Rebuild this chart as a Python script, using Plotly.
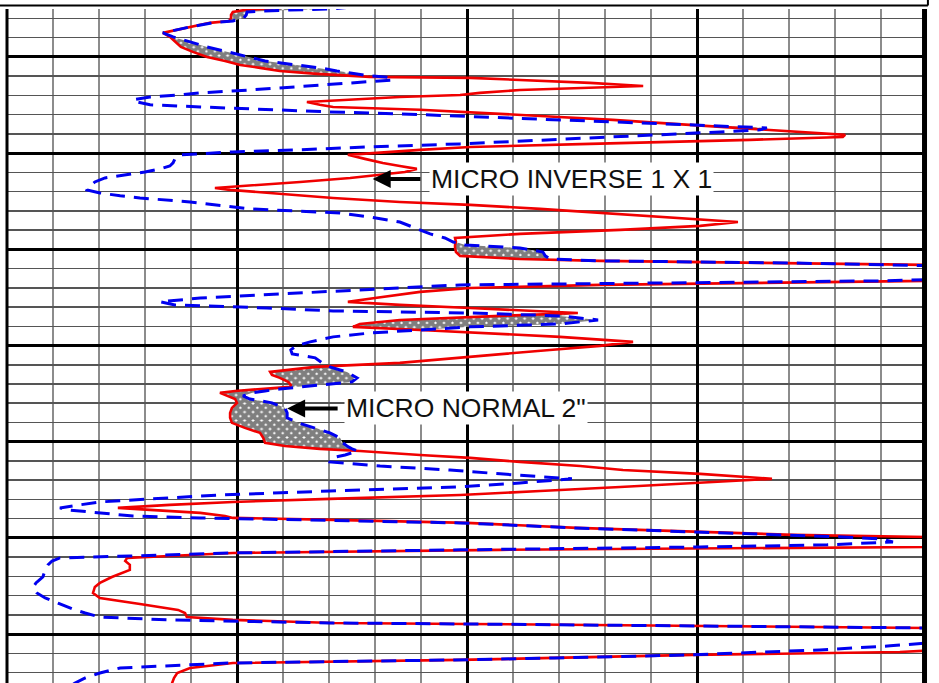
import numpy as np
import plotly.graph_objects as go

# Depth (ft) and resistivity readings (ohm-m, linear 0-20 scale)
depth_ft = [4197.30, 4197.51, 4197.56, 4197.66, 4197.82, 4197.97, 4198.13, 4198.23, 4198.44, 4198.65,
            4198.75, 4198.96, 4199.22, 4199.48, 4199.74, 4200.00, 4200.21, 4200.42, 4200.57, 4200.73,
            4200.88, 4200.99, 4201.04, 4201.09, 4201.20, 4201.35, 4201.51, 4201.61, 4201.72, 4201.87,
            4201.98, 4202.08, 4202.23, 4202.34, 4202.49, 4202.60, 4202.75, 4202.86, 4202.96, 4203.07,
            4203.27, 4203.48, 4203.69, 4203.79, 4203.90, 4204.05, 4204.16, 4204.31, 4204.52, 4204.68,
            4204.83, 4204.94, 4205.09, 4205.30, 4205.51, 4205.67, 4205.82, 4205.98, 4206.13, 4206.29,
            4206.50, 4206.70, 4206.81, 4206.91, 4207.07, 4207.22, 4207.33, 4207.54, 4207.69, 4207.90,
            4208.11, 4208.32, 4208.58, 4208.78, 4208.99, 4209.20, 4209.41, 4209.62, 4209.77, 4209.93,
            4210.14, 4210.34, 4210.50, 4210.60, 4210.71, 4210.81, 4210.92, 4211.49, 4211.59, 4211.64,
            4211.85, 4212.01, 4212.21, 4212.37, 4212.53, 4212.73, 4212.89, 4213.05, 4213.20, 4213.31,
            4213.46, 4213.67, 4213.88, 4214.03, 4214.19, 4214.35, 4214.55, 4214.81, 4215.02, 4215.23,
            4215.44, 4215.64, 4215.90, 4216.11, 4216.27, 4216.37, 4216.53, 4216.68, 4216.89, 4217.05,
            4217.15, 4217.26, 4217.36, 4217.46, 4217.62, 4217.78, 4217.98, 4218.24, 4218.50, 4218.76,
            4219.02, 4219.28, 4219.54, 4219.80, 4220.06, 4220.22, 4220.37, 4220.48, 4220.69, 4220.84,
            4221.05, 4221.26, 4221.47, 4221.67, 4221.93, 4222.14, 4222.35, 4222.56, 4222.77, 4222.97,
            4223.13, 4223.28, 4223.44, 4223.54, 4223.70, 4223.86, 4223.96, 4224.06, 4224.22, 4224.48,
            4224.69, 4224.84, 4224.95, 4225.05, 4225.21, 4225.36, 4225.47, 4225.62, 4225.78, 4225.94,
            4226.04, 4226.20, 4226.40, 4226.66, 4227.03, 4227.34, 4227.55, 4227.86, 4228.12, 4228.43,
            4228.74, 4228.90, 4229.11, 4229.26, 4229.42, 4229.47, 4229.57, 4229.68, 4229.78, 4230.35,
            4230.46, 4230.61, 4230.82, 4230.93, 4231.08, 4231.24, 4231.34, 4231.50, 4231.76, 4232.02,
            4232.28, 4232.54, 4232.90]

micro_inverse = [7.00, 5.54, 5.17, 4.91, 4.87, 4.87, 4.83, 4.41, 3.98, 3.54,
                 3.39, 3.54, 3.67, 3.78, 4.04, 4.35, 4.74, 5.07, 5.50, 5.93,
                 6.74, 7.46, 7.89, 10.07, 11.15, 12.67, 13.83, 12.46, 11.15, 10.28,
                 9.85, 8.54, 7.24, 6.52, 6.80, 7.09, 8.98, 10.07, 10.72, 11.59,
                 13.17, 14.50, 15.85, 16.50, 17.17, 18.22, 18.17, 16.15, 12.67, 10.07,
                 8.98, 8.33, 7.41, 7.78, 8.17, 8.54, 8.91, 8.65, 8.11, 7.46,
                 6.37, 5.07, 4.52, 4.85, 5.65, 6.37, 7.09, 8.54, 10.07, 11.59,
                 12.89, 14.20, 15.89, 15.07, 13.33, 11.15, 9.74, 9.76, 9.74, 9.74,
                 9.76, 9.85, 11.15, 12.89, 17.02, 20.07, 21.59, 21.59, 20.13, 20.00,
                 12.89, 10.07, 8.98, 8.54, 8.00, 7.41, 8.54, 10.07, 11.59, 12.41,
                 10.72, 8.54, 7.67, 7.52, 8.98, 10.28, 12.02, 13.61, 12.89, 11.80,
                 10.72, 9.85, 8.54, 6.70, 6.04, 5.72, 5.76, 5.93, 6.11, 6.17,
                 6.15, 5.54, 4.96, 4.63, 4.80, 4.96, 5.00, 4.89, 4.85, 4.85,
                 4.89, 5.17, 5.50, 5.57, 5.61, 6.04, 6.80, 7.67, 8.98, 10.07,
                 11.15, 12.46, 13.39, 15.07, 16.63, 15.07, 13.33, 11.59, 9.85, 7.02,
                 4.91, 3.54, 2.41, 3.11, 4.20, 4.74, 4.91, 7.09, 10.00, 12.39,
                 14.91, 17.09, 20.00, 21.59, 21.59, 21.59, 20.00, 10.72, 4.91, 3.33,
                 2.61, 2.57, 2.67, 2.67, 2.28, 2.02, 1.91, 1.87, 2.02, 2.89,
                 3.72, 3.87, 3.91, 4.91, 7.09, 10.00, 15.07, 20.00, 21.59, 21.59,
                 21.59, 21.59, 20.28, 19.41, 14.91, 12.02, 9.85, 4.91, 3.98, 3.70,
                 3.63, 3.59, 3.54]

micro_normal = [8.00, 7.02, 6.15, 5.22, 5.20, 5.15, 4.91, 4.46, 3.98, 3.54,
                3.39, 3.61, 3.98, 4.35, 4.80, 5.22, 5.61, 6.30, 6.80, 7.17,
                7.61, 7.89, 8.22, 8.33, 8.39, 7.46, 6.70, 6.00, 5.28, 4.20,
                3.76, 3.11, 2.74, 2.83, 3.11, 4.20, 5.65, 7.02, 8.54, 9.85,
                12.07, 14.30, 16.52, 16.37, 15.50, 14.20, 13.17, 11.80, 9.85, 7.83,
                6.37, 4.91, 3.76, 3.65, 3.61, 3.54, 3.33, 3.00, 2.57, 2.13,
                1.91, 1.80, 1.76, 1.74, 2.02, 2.46, 2.89, 3.98, 4.52, 5.28,
                7.24, 7.89, 8.54, 8.76, 8.98, 9.20, 9.52, 9.70, 9.96, 11.15,
                11.65, 11.70, 11.80, 12.89, 17.02, 20.07, 21.59, 21.59, 20.07, 18.98,
                9.85, 8.54, 6.96, 5.65, 4.20, 3.33, 3.65, 5.65, 7.09, 10.07,
                12.02, 12.85, 12.02, 10.07, 8.98, 7.89, 7.09, 6.59, 6.28, 6.17,
                6.20, 6.70, 6.85, 7.02, 7.24, 7.39, 7.50, 7.61, 7.50, 6.80,
                6.26, 5.93, 5.61, 5.33, 5.13, 5.28, 5.76, 6.04, 6.09, 6.09,
                6.33, 6.70, 7.02, 7.24, 7.30, 7.39, 7.50, 7.63, 7.35, 7.04,
                7.02, 8.11, 9.63, 10.72, 12.28, 11.15, 9.85, 7.02, 4.63, 3.11,
                2.02, 1.59, 1.15, 1.30, 2.02, 2.74, 4.20, 6.37, 9.85, 12.35,
                14.85, 17.02, 18.17, 18.98, 19.26, 17.83, 15.07, 9.85, 4.91, 2.67,
                1.15, 0.98, 0.89, 0.83, 0.78, 0.63, 0.57, 0.65, 0.83, 1.15,
                1.48, 1.70, 2.02, 3.48, 7.02, 9.85, 15.07, 20.00, 21.59, 21.59,
                20.00, 19.20, 17.67, 16.37, 14.85, 11.91, 9.74, 4.85, 2.46, 2.02,
                1.70, 1.48, 1.26]

x_range = [0, 20]
depth_range = [4232.54, 4197.51]  # bottom, top
label_inverse = "MICRO INVERSE 1 X 1"
label_normal = 'MICRO NORMAL 2"'

d = np.array(depth_ft)
mi = np.array(micro_inverse)
mn = np.array(micro_normal)
sep_right = np.maximum(mi, mn)

fig = go.Figure()

# checkered separation where micro normal reads higher than micro inverse
fig.add_trace(go.Scatter(
    x=np.concatenate([mi, sep_right[::-1]]),
    y=np.concatenate([d, d[::-1]]),
    mode="lines", fill="toself",
    line=dict(width=0, color="rgba(0,0,0,0)"),
    fillcolor="white",
    fillpattern=dict(shape="x", fgcolor="black", bgcolor="white", size=6, solidity=0.88),
    hoverinfo="skip", showlegend=False))

fig.add_trace(go.Scatter(x=mi, y=d, mode="lines", name=label_inverse,
                         line=dict(color="#f00000", width=2.6)))
fig.add_trace(go.Scatter(x=mn, y=d, mode="lines", name=label_normal,
                         line=dict(color="#0000f0", width=3, dash="15px,9px")))

fig.update_layout(
    width=939, height=683,
    margin=dict(l=7, r=12, t=9, b=0),
    paper_bgcolor="white", plot_bgcolor="white",
    showlegend=False,
)
fig.update_xaxes(range=x_range, showticklabels=False, ticks="", zeroline=False, showline=False,
                 tick0=0, dtick=5, showgrid=True, gridcolor="black", gridwidth=3,
                 minor=dict(tick0=0, dtick=1, showgrid=True, gridcolor="#8c8c8c", gridwidth=2))
fig.update_yaxes(range=depth_range, showticklabels=False, ticks="", zeroline=False, showline=False,
                 tick0=4200, dtick=5, showgrid=True, gridcolor="black", gridwidth=3,
                 minor=dict(tick0=4200, dtick=1, showgrid=True, gridcolor="#555555", gridwidth=1.5))

# darker minor verticals in the 2nd and 4th decades
for xv in [6, 7, 8, 9, 16, 17, 18, 19]:
    fig.add_shape(type="line", xref="x", yref="paper", x0=xv, x1=xv, y0=0, y1=1,
                  line=dict(color="black", width=1.5), layer="between")

# track borders and header frame
fig.add_shape(type="line", xref="paper", yref="paper", x0=0, x1=0, y0=0, y1=1,
              line=dict(color="black", width=3), layer="above")
fig.add_shape(type="line", xref="paper", yref="paper", x0=0.9973, x1=0.9973, y0=0, y1=1,
              line=dict(color="black", width=5), layer="above")
fig.add_shape(type="line", xref="paper", yref="paper", x0=-0.008, x1=1.001, y0=1.0052, y1=1.0052,
              line=dict(color="black", width=2), layer="above")
fig.add_shape(type="line", xref="paper", yref="paper", x0=1.001, x1=1.001, y0=1.0052, y1=1.02,
              line=dict(color="black", width=2), layer="above")

font = dict(family="Liberation Sans, Arial, sans-serif", size=26.5, color="#111111")

fig.add_annotation(x=7.95, y=4206.34, ax=9.02, ay=4206.34, xref="x", yref="y", axref="x", ayref="y",
                   text="", showarrow=True, arrowhead=2, arrowsize=0.9, arrowwidth=4, arrowcolor="black")
fig.add_annotation(x=12.27, y=4206.35, xref="x", yref="y", text=label_inverse, showarrow=False,
                   font=font, bgcolor="white", borderpad=1, xanchor="center", yanchor="middle")

fig.add_annotation(x=6.09, y=4218.27, ax=7.22, ay=4218.27, xref="x", yref="y", axref="x", ayref="y",
                   text="", showarrow=True, arrowhead=2, arrowsize=0.9, arrowwidth=4, arrowcolor="black")
fig.add_annotation(x=9.98, y=4218.27, xref="x", yref="y", text=label_normal, showarrow=False,
                   font=font, bgcolor="white", borderpad=1, xanchor="center", yanchor="middle")

fig.write_html("out.html", config={"displayModeBar": False, "staticPlot": True},
               post_script="document.body.style.margin='0px';document.body.style.overflow='hidden';")
